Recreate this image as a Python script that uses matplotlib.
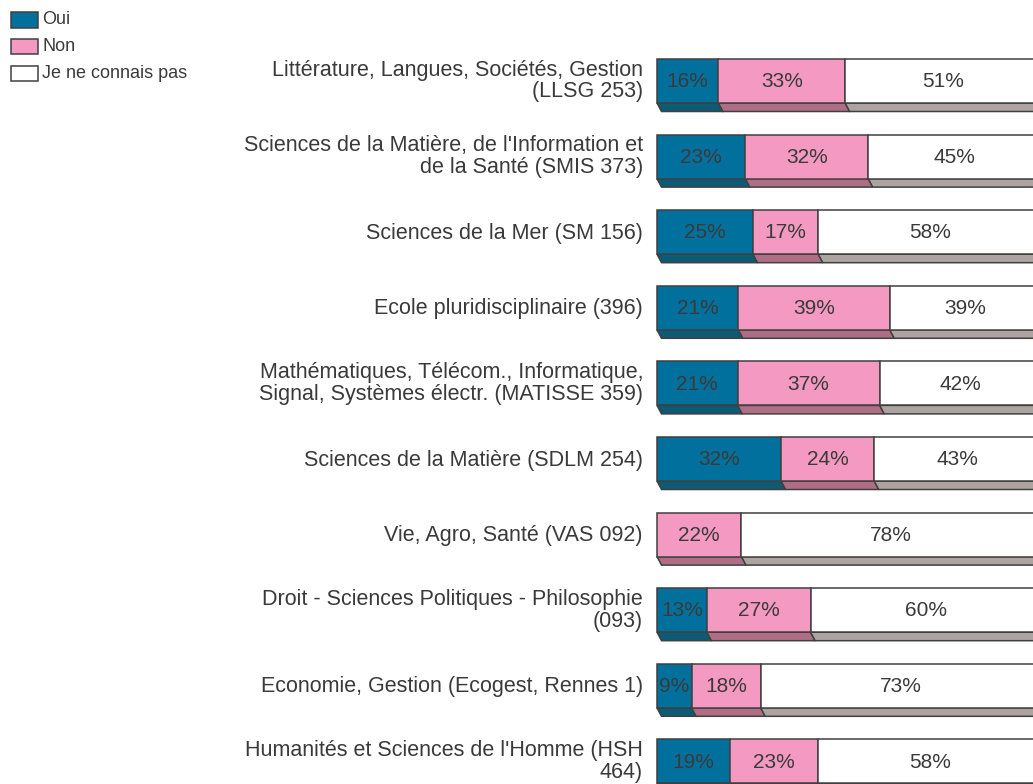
import matplotlib
matplotlib.use("Agg")
import matplotlib.pyplot as plt
from matplotlib.patches import Polygon, Rectangle

# ---- data ----
categories = [
    "Littérature, Langues, Sociétés, Gestion\n(LLSG 253)",
    "Sciences de la Matière, de l'Information et\nde la Santé (SMIS 373)",
    "Sciences de la Mer (SM 156)",
    "Ecole pluridisciplinaire (396)",
    "Mathématiques, Télécom., Informatique,\nSignal, Systèmes électr. (MATISSE 359)",
    "Sciences de la Matière (SDLM 254)",
    "Vie, Agro, Santé (VAS 092)",
    "Droit - Sciences Politiques - Philosophie\n(093)",
    "Economie, Gestion (Ecogest, Rennes 1)",
    "Humanités et Sciences de l'Homme (HSH\n464)",
]
oui = [16, 23, 25, 21, 21, 32, 0, 13, 9, 19]
non = [33, 32, 17, 39, 37, 24, 22, 27, 18, 23]
nsp = [51, 45, 58, 39, 42, 43, 78, 60, 73, 58]
series_names = ["Oui", "Non", "Je ne connais pas"]

front_colors = ["#02709c", "#f49ac2", "#ffffff"]
side_colors = ["#0c5a73", "#b06d86", "#ada4a2"]
edge = "#404040"
text_col = "#3a3a3a"
plt.rcParams['font.family'] = ['Liberation Sans', 'DejaVu Sans']

W, H = 1033, 784
fig = plt.figure(figsize=(W / 100, H / 100), dpi=100)
ax = fig.add_axes([0, 0, 1, 1])
px_per = 3.84
x0px = 657
ax.set_xlim(-x0px / px_per, (W - x0px) / px_per)
row_px = 75.6
first_center = 81
ax.set_ylim((H - first_center) / row_px, -first_center / row_px)
ax.axis('off')

bar_h = 44 / row_px
dy = 8.5 / row_px
dx = 4.5 / px_per

series = [oui, non, nsp]
for i, cat in enumerate(categories):
    total = oui[i] + non[i] + nsp[i]
    left = 0.0
    yb = i + bar_h / 2
    for s, vals in enumerate(series):
        v = vals[i]
        if v == 0:
            continue
        w = v / total * 100
        face = Polygon([(left, yb), (left + w, yb), (left + w + dx, yb + dy), (left + dx, yb + dy)],
                       closed=True, facecolor=side_colors[s], edgecolor=edge, lw=1.1, zorder=1)
        ax.add_patch(face)
        ax.barh(i, w, left=left, height=bar_h, color=front_colors[s], edgecolor=edge, lw=1.1, zorder=2)
        ax.text(left + w / 2, i + 0.01, f"{v}%", ha='center', va='center', fontsize=15,
                color=text_col, zorder=3)
        left += w
    shift = 0.0 if "\n" in cat else 0.015
    ax.text(-14 / px_per, i + shift, cat, ha='right', va='center', fontsize=15.5,
            color=text_col, linespacing=1.05, multialignment='right')

# legend
leg_items = [(12, 28), (39, 54), (66, 81)]
for (t, b), name, fc in zip(leg_items, series_names, front_colors):
    fig.patches.append(Rectangle((11 / W, 1 - b / H), 27 / W, (b - t) / H,
                                 transform=fig.transFigure, facecolor=fc, edgecolor=edge, lw=1.1))
    fig.text(42 / W, 1 - ((t + b) / 2) / H, name, ha='left', va='center', fontsize=13, color=text_col)

fig.savefig("out.png", dpi=100)
